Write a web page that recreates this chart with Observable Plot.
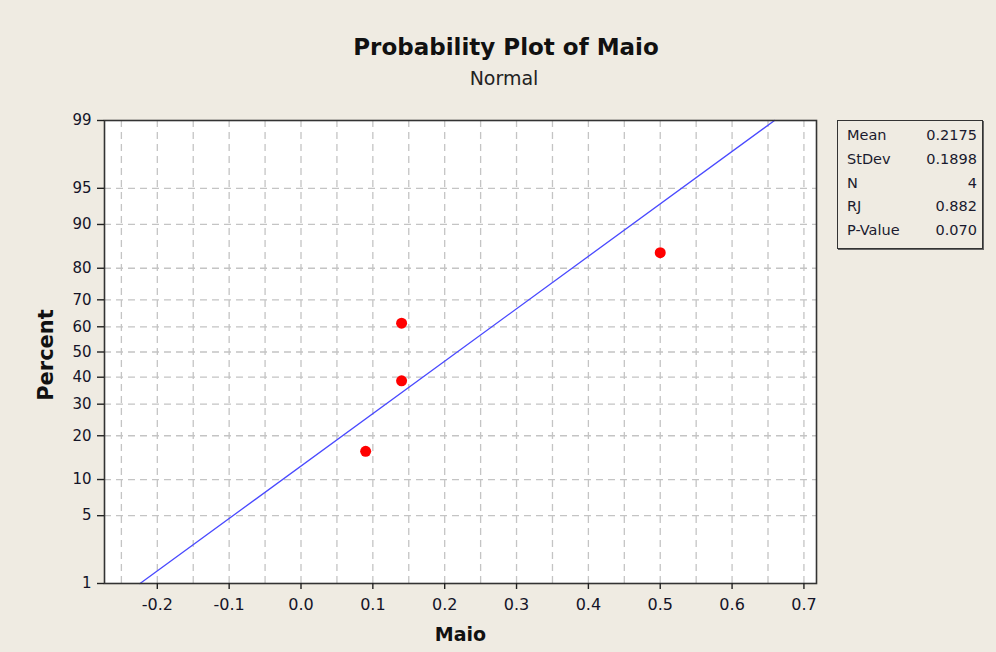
<!DOCTYPE html>
<html>
<head>
<meta charset="utf-8">
<script src="https://cdn.jsdelivr.net/npm/d3@7"></script>
<script src="https://cdn.jsdelivr.net/npm/@observablehq/plot@0.6"></script>
<style>
  html, body { margin: 0; padding: 0; background: #EFEBE2; }
  #wrap { position: relative; width: 996px; height: 652px; overflow: hidden; background: #EFEBE2; }
  #chart { position: absolute; left: 0; top: 0; }
  #title { position: absolute; left: 0; width: 1012px; top: 34px; text-align: center;
    font-family: "DejaVu Sans", sans-serif; font-weight: bold; font-size: 23px; color: #111; }
  #subtitle { position: absolute; left: 0; width: 1008px; top: 67px; text-align: center;
    font-family: "DejaVu Sans", sans-serif; font-size: 19px; color: #222; }
  #stats { position: absolute; left: 837px; top: 120px; width: 144px; height: 127px;
    border: 1px solid #333; box-shadow: 1px 1px 0 #666; background: #EFEBE2;
    font-family: "DejaVu Sans", sans-serif; font-size: 14.5px; color: #1a1a2e; }
  #stats .row { position: absolute; left: 9px; right: 5px; height: 17px; }
  #stats .row span.v { position: absolute; right: 0; }
</style>
</head>
<body>
<div id="wrap">
  <div id="chart"></div>
  <div id="title">Probability Plot of Maio</div>
  <div id="subtitle">Normal</div>
  <div id="stats"></div>
</div>
<script>
// ---- data ----
const xValues = [0.09, 0.14, 0.14, 0.50];
const percentValues = [15.9, 38.6, 61.4, 84.1];
const percentTicks = [1, 5, 10, 20, 30, 40, 50, 60, 70, 80, 90, 95, 99];
const xTicks = [-0.2, -0.1, 0.0, 0.1, 0.2, 0.3, 0.4, 0.5, 0.6, 0.7];
const xGrid = [-0.25, -0.2, -0.15, -0.1, -0.05, 0, 0.05, 0.1, 0.15, 0.2, 0.25, 0.3, 0.35, 0.4, 0.45, 0.5, 0.55, 0.6, 0.65, 0.7];
const fitMean = 0.2175;
const fitStDev = 0.1898;
const fitPercents = [1, 99];
const statNames = ["Mean", "StDev", "N", "RJ", "P-Value"];
const statValues = ["0.2175", "0.1898", "4", "0.882", "0.070"];

// inverse standard normal CDF (Acklam) for the probability scale
function probit(p) {
  const a = [-3.969683028665376e+01, 2.209460984245205e+02, -2.759285104469687e+02, 1.383577518672690e+02, -3.066479806614716e+01, 2.506628277459239e+00];
  const b = [-5.447609879822406e+01, 1.615858368580409e+02, -1.556989798598866e+02, 6.680131188771972e+01, -1.328068155288572e+01];
  const c = [-7.784894002430293e-03, -3.223964580411365e-01, -2.400758277161838e+00, -2.549732539343734e+00, 4.374664141464968e+00, 2.938163982698783e+00];
  const d = [7.784695709041462e-03, 3.224671290700398e-01, 2.445134137142996e+00, 3.754408661907416e+00];
  const pl = 0.02425;
  let q, r;
  if (p < pl) {
    q = Math.sqrt(-2 * Math.log(p));
    return (((((c[0]*q+c[1])*q+c[2])*q+c[3])*q+c[4])*q+c[5]) / ((((d[0]*q+d[1])*q+d[2])*q+d[3])*q+1);
  } else if (p <= 1 - pl) {
    q = p - 0.5; r = q * q;
    return (((((a[0]*r+a[1])*r+a[2])*r+a[3])*r+a[4])*r+a[5])*q / (((((b[0]*r+b[1])*r+b[2])*r+b[3])*r+b[4])*r+1);
  } else {
    q = Math.sqrt(-2 * Math.log(1 - p));
    return -(((((c[0]*q+c[1])*q+c[2])*q+c[3])*q+c[4])*q+c[5]) / ((((d[0]*q+d[1])*q+d[2])*q+d[3])*q+1);
  }
}
const z = pct => probit(pct / 100);

const points = xValues.map((x, i) => ({x, z: z(percentValues[i])}));
const fitLine = fitPercents.map(p => ({x: fitMean + fitStDev * z(p), z: z(p)}));
const gridY = percentTicks.slice(1, -1).map(z);
const tickZ = percentTicks.map(z);
const labelOf = new Map(tickZ.map((t, i) => [t, String(percentTicks[i])]));

const FONT = '"DejaVu Sans", sans-serif';

const chart = Plot.plot({
  width: 996,
  height: 652,
  marginTop: 120,
  marginBottom: 69,
  marginLeft: 104,
  marginRight: 180,
  style: {background: "transparent", fontFamily: FONT, fontSize: "13px", color: "#1a1a2e"},
  x: {domain: [-0.2735, 0.7175]},
  y: {domain: [z(1), z(99)]},
  marks: [
    Plot.frame({fill: "white"}),
    Plot.ruleX(xGrid, {stroke: "#c4c4c4", strokeWidth: 1.3, strokeDasharray: "7,5"}),
    Plot.ruleY(gridY, {stroke: "#c4c4c4", strokeWidth: 1.3, strokeDasharray: "7,5"}),
    Plot.line(fitLine, {x: "x", y: "z", stroke: "#4a4aff", strokeWidth: 1.3}),
    Plot.dot(points, {x: "x", y: "z", r: 5.5, fill: "#ff0000", stroke: "none"}),
    Plot.frame({stroke: "#333", strokeWidth: 1.6}),
    Plot.axisX({ticks: xTicks, tickFormat: d => d.toFixed(1), tickSize: 6, tickPadding: 9, label: null, stroke: "#222", strokeWidth: 1.4, fontSize: 16, fill: "#141428"}),
    Plot.axisY({ticks: tickZ, tickFormat: t => labelOf.get(t), tickSize: 7, tickPadding: 6, label: null, stroke: "#222", strokeWidth: 1.4, fontSize: 15, fill: "#141428"}),
    Plot.text(["Maio"], {frameAnchor: "bottom", dy: 57, fontWeight: "bold", fontSize: 19, fill: "#111"}),
    Plot.text(["Percent"], {frameAnchor: "left", textAnchor: "middle", dx: -58, dy: 3, rotate: -90, fontWeight: "bold", fontSize: 21, fill: "#111"})
  ]
});
document.getElementById("chart").appendChild(chart);

const stats = document.getElementById("stats");
statNames.forEach((name, i) => {
  const row = document.createElement("div");
  row.className = "row";
  row.style.top = (6 + i * 23.8) + "px";
  const n = document.createElement("span");
  n.textContent = name;
  const v = document.createElement("span");
  v.className = "v";
  v.textContent = statValues[i];
  row.appendChild(n);
  row.appendChild(v);
  stats.appendChild(row);
});
</script>
</body>
</html>
